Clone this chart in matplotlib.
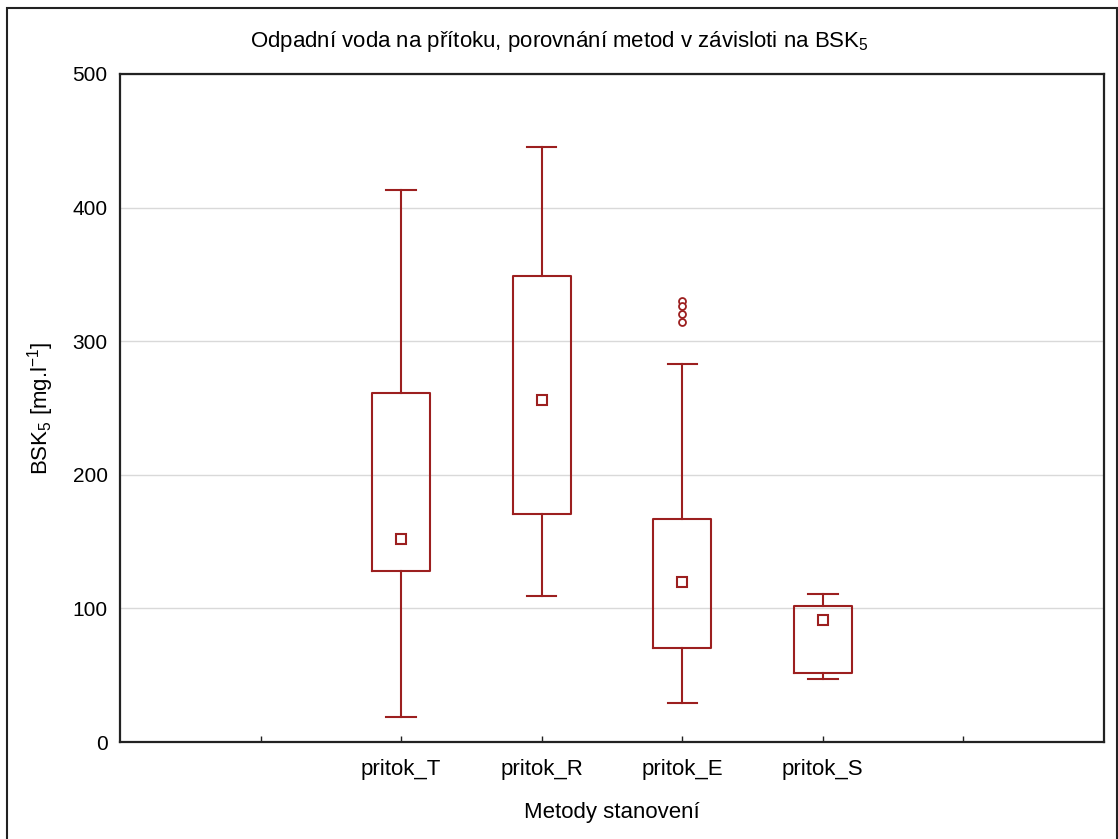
#!/usr/bin/env python3
"""Box plot of BSK5 on inflow, comparison of methods (Statistica style)."""

import matplotlib
matplotlib.use("Agg")
import matplotlib.pyplot as plt
from matplotlib.patches import Rectangle

RED = "#9c1f1f"
plt.rcParams["font.family"] = ["Liberation Sans", "DejaVu Sans"]
plt.rcParams["mathtext.fontset"] = "custom"
plt.rcParams["mathtext.rm"] = "Liberation Sans"
plt.rcParams["mathtext.it"] = "Liberation Sans"

# ── Data ──
methods = ["pritok_T", "pritok_R", "pritok_E", "pritok_S"]
medians = [152, 256, 120, 91]
q1 = [128, 171, 70.5, 52]
q3 = [261, 349, 167, 102]
whisk_lo = [19, 109, 29, 47]
whisk_hi = [413, 445, 283, 111]
outliers = [[], [], [330, 326, 320, 314], []]

positions = [1, 2, 3, 4]
stats = []
for i, m in enumerate(methods):
    stats.append({"label": m, "med": medians[i], "q1": q1[i], "q3": q3[i],
                  "whislo": whisk_lo[i], "whishi": whisk_hi[i],
                  "fliers": outliers[i], "mean": medians[i]})

fig = plt.figure(figsize=(11.18, 8.39), dpi=100)
ax = fig.add_axes([120 / 1118, 1 - 742 / 839, (1104 - 120) / 1118, (742 - 74) / 839])

ax.bxp(stats, positions=positions, widths=0.41, capwidths=0.21,
       showmeans=True, meanline=False, patch_artist=False,
       boxprops=dict(color=RED, linewidth=1.5),
       whiskerprops=dict(color=RED, linewidth=1.5),
       capprops=dict(color=RED, linewidth=1.5),
       medianprops=dict(linewidth=0),
       meanprops=dict(marker="s", markersize=7, markerfacecolor="white",
                      markeredgecolor=RED, markeredgewidth=1.5),
       flierprops=dict(marker="o", markersize=5, markerfacecolor="white",
                       markeredgecolor=RED, markeredgewidth=1.3))

ax.set_xlim(-1, 6)
ax.set_ylim(0, 500)
ax.set_xticks(range(0, 6))
ax.set_xticklabels([""] + methods + [""])
ax.set_yticks(range(0, 501, 100))
ax.yaxis.grid(True, color="#d9d9d9", linewidth=1)
ax.set_axisbelow(True)

ax.tick_params(axis="x", direction="in", length=4, width=1, color="#222",
               labelsize=16, pad=12)
ax.tick_params(axis="y", length=0, labelsize=15, pad=9)
for spine in ax.spines.values():
    spine.set_color("#222")
    spine.set_linewidth(1.6)

fig.text(0.5, 1 - 42 / 839, "Odpadní voda na přítoku, porovnání metod v závisloti na BSK$_5$",
         fontsize=16, ha="center", va="center")
ax.set_xlabel("Metody stanovení", fontsize=16, labelpad=16)
ax.set_ylabel("BSK$_5$ [mg.l$^{-1}$]", fontsize=16, labelpad=12)

# outer frame around the whole graph
fig.patches.append(Rectangle((7 / 1118, -0.01), (1117 - 7) / 1118, 1 - 8 / 839 + 0.01,
                             transform=fig.transFigure, fill=False,
                             edgecolor="#222", linewidth=1.5))

fig.savefig("out.png", dpi=100, facecolor="white")
